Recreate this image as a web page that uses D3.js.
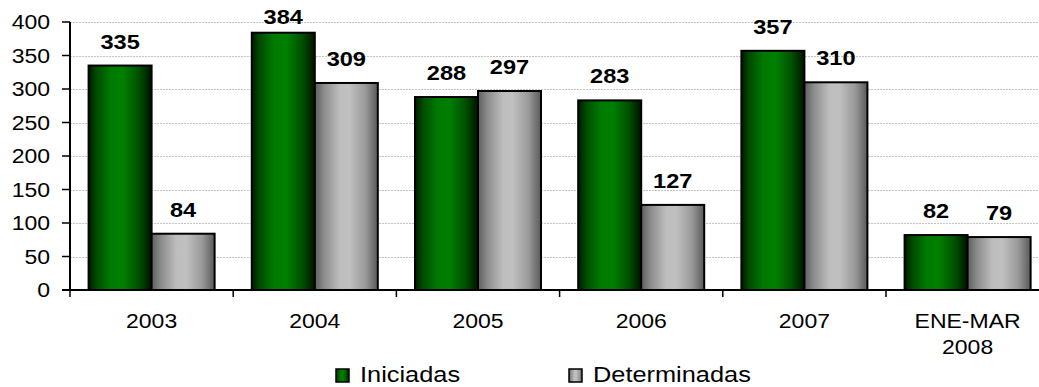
<!DOCTYPE html>
<html>
<head>
<meta charset="utf-8">
<script src="https://cdn.jsdelivr.net/npm/d3@7"></script>
<style>
  html, body { margin: 0; padding: 0; background: #fff; }
  svg { display: block; font-family: "Liberation Sans", Arial, sans-serif; }
</style>
</head>
<body>
<svg id="chart" width="1039" height="387"></svg>
<script>
// Procedimientos iniciados y determinados por año
const categories = ["2003", "2004", "2005", "2006", "2007", "ENE-MAR\n2008"];
const iniciadas = [335, 384, 288, 283, 357, 82];
const determinadas = [84, 309, 297, 127, 310, 79];
const seriesNames = ["Iniciadas", "Determinadas"];
const yTicks = [0, 50, 100, 150, 200, 250, 300, 350, 400];

const svg = d3.select("#chart");
const W = 1039, H = 387;
const plotLeft = 70, plotTop = 22, plotBottom = 290;
const step = 163.2;
const STRETCH = 1.18;

const x0 = d3.scaleBand().domain(categories)
  .range([plotLeft, plotLeft + step * categories.length]).paddingInner(0).paddingOuter(0);
const x1 = d3.scaleBand().domain(seriesNames)
  .range([0, x0.bandwidth()]).paddingInner(0).paddingOuter(0.295);
const y = d3.scaleLinear().domain([0, 400]).range([plotBottom, plotTop]);

// gradients
const defs = svg.append("defs");
function grad(id, stops) {
  const g = defs.append("linearGradient").attr("id", id)
    .attr("x1", "0%").attr("x2", "100%").attr("y1", "0%").attr("y2", "0%");
  stops.forEach(s => g.append("stop").attr("offset", s[0]).attr("stop-color", s[1]));
}
grad("gGreen", [["0%", "#001800"], ["12%", "#004a00"], ["35%", "#007a00"], ["55%", "#007f00"], ["80%", "#005000"], ["100%", "#001200"]]);
grad("gGray", [["0%", "#5e5e5e"], ["15%", "#8c8c8c"], ["40%", "#bebebe"], ["55%", "#c0c0c0"], ["80%", "#9a9a9a"], ["100%", "#5a5a5a"]]);
const fills = { "Iniciadas": "url(#gGreen)", "Determinadas": "url(#gGray)" };

// gridlines
svg.append("g").selectAll("line").data(yTicks.filter(d => d > 0)).join("line")
  .attr("x1", plotLeft).attr("x2", W)
  .attr("y1", d => Math.round(y(d)) + 0.5).attr("y2", d => Math.round(y(d)) + 0.5)
  .attr("stroke", "#c4c4c4").attr("stroke-width", 1).attr("stroke-dasharray", "2,1");

// bars
const rows = categories.map((c, i) => ({ cat: c, vals: [
  { s: "Iniciadas", v: iniciadas[i] }, { s: "Determinadas", v: determinadas[i] }] }));

const groups = svg.append("g").selectAll("g").data(rows).join("g")
  .attr("transform", d => `translate(${x0(d.cat)},0)`);

groups.selectAll("rect").data(d => d.vals).join("rect")
  .attr("x", d => x1(d.s)).attr("width", x1.bandwidth())
  .attr("y", d => y(d.v)).attr("height", d => y(0) - y(d.v))
  .attr("fill", d => fills[d.s])
  .attr("stroke", "#000").attr("stroke-width", 2);

// value labels (kept inside the top edge)
groups.selectAll("text").data(d => d.vals).join("text")
  .attr("transform", d => `translate(${x1(d.s) + x1.bandwidth() / 2},${Math.max(y(d.v) - 17, 24)}) scale(${STRETCH},1)`)
  .attr("text-anchor", "middle")
  .attr("font-size", 20).attr("font-weight", "bold").attr("fill", "#000")
  .text(d => d.v);

// y axis
const yAxis = svg.append("g");
yAxis.append("line").attr("x1", plotLeft).attr("x2", plotLeft).attr("y1", plotTop).attr("y2", plotBottom)
  .attr("stroke", "#000").attr("stroke-width", 2);
yAxis.selectAll("line.t").data(yTicks).join("line").attr("class", "t")
  .attr("x1", plotLeft - 8).attr("x2", plotLeft)
  .attr("y1", d => y(d)).attr("y2", d => y(d))
  .attr("stroke", "#000").attr("stroke-width", 1.5);
yAxis.selectAll("text").data(yTicks).join("text")
  .attr("transform", d => `translate(50,${y(d) + 7}) scale(${STRETCH},1)`)
  .attr("text-anchor", "end").attr("font-size", 19.5).attr("fill", "#000")
  .text(d => d);

// x axis
const xAxis = svg.append("g");
xAxis.append("line").attr("x1", plotLeft - 8).attr("x2", W).attr("y1", plotBottom).attr("y2", plotBottom)
  .attr("stroke", "#000").attr("stroke-width", 2);
xAxis.selectAll("line.t").data(categories).join("line").attr("class", "t")
  .attr("x1", d => x0(d)).attr("x2", d => x0(d))
  .attr("y1", plotBottom).attr("y2", plotBottom + 7)
  .attr("stroke", "#000").attr("stroke-width", 1.5);
xAxis.selectAll("text").data(categories).join("text")
  .attr("transform", d => `translate(${x0(d) + x0.bandwidth() / 2},328) scale(${STRETCH},1)`)
  .attr("text-anchor", "middle").attr("font-size", 19.5).attr("fill", "#000")
  .each(function(d) {
    d.split("\n").forEach((line, i) => {
      d3.select(this).append("tspan").attr("x", 0).attr("dy", i === 0 ? 0 : 26).text(line);
    });
  });

// legend
const legendPos = [336, 569];
const lg = svg.append("g").selectAll("g").data(seriesNames).join("g")
  .attr("transform", (d, i) => `translate(${legendPos[i]},369)`);
lg.append("rect").attr("width", 13).attr("height", 13)
  .attr("fill", d => fills[d]).attr("stroke", "#000").attr("stroke-width", 1.5);
lg.append("text")
  .attr("transform", `translate(24,13) scale(${STRETCH},1)`)
  .attr("font-size", 21.5).attr("fill", "#000")
  .text(d => d);
</script>
</body>
</html>
